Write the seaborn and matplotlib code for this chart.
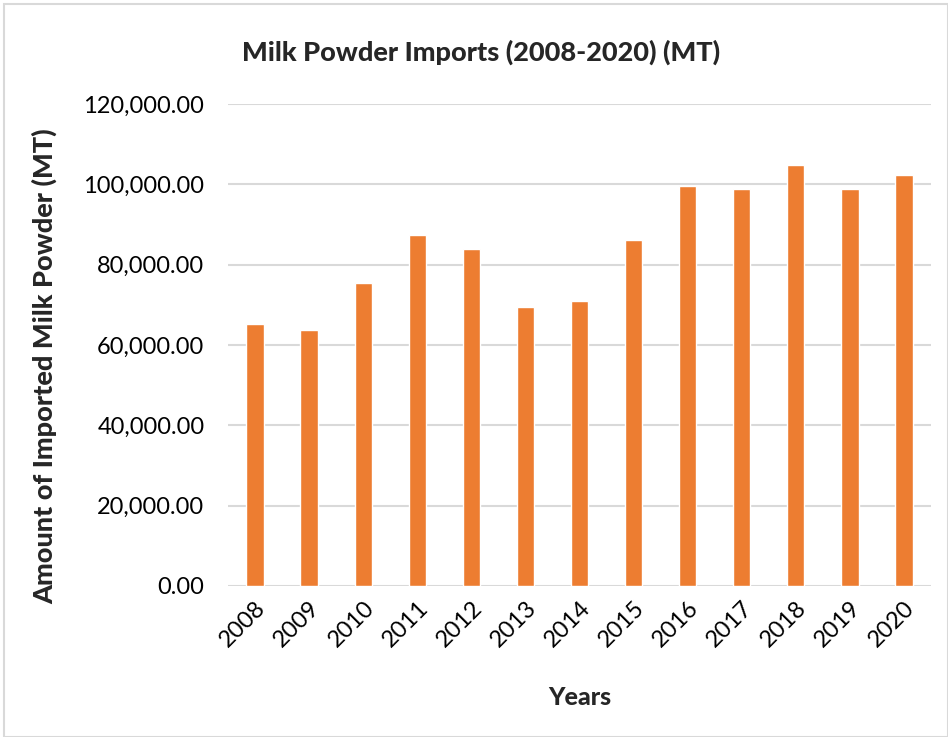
import matplotlib
matplotlib.use("Agg")
import matplotlib.pyplot as plt
import seaborn as sns
import pandas as pd
from matplotlib.patches import Rectangle
from matplotlib.ticker import FuncFormatter, MultipleLocator

years = ["2008", "2009", "2010", "2011", "2012", "2013", "2014",
         "2015", "2016", "2017", "2018", "2019", "2020"]
imports_mt = [65300, 63800, 75350, 87300, 83800, 69350, 70850,
              86250, 99600, 98750, 104900, 98750, 102300]

df = pd.DataFrame({"Year": years, "Imports": imports_mt})

sns.set_theme(style="white")
plt.rcParams["font.family"] = ["Lato", "DejaVu Sans"]

fig = plt.figure(figsize=(9.48, 7.37), dpi=100)
ax = fig.add_axes([228 / 948, 1 - 586 / 737, (931 - 228) / 948, (586 - 104) / 737])

sns.barplot(data=df, x="Year", y="Imports", color="#ED7D31", width=0.32,
            saturation=1, ax=ax, zorder=3)

ax.set_ylim(0, 120000)
ax.yaxis.set_major_locator(MultipleLocator(20000))
ax.yaxis.set_major_formatter(FuncFormatter(lambda v, p: f"{v:,.2f}"))
ax.grid(axis="y", color="#d9d9d9", linewidth=1.5, zorder=0)
ax.grid(axis="x", visible=False)
for side in ["top", "right", "left", "bottom"]:
    ax.spines[side].set_visible(False)
ax.tick_params(axis="both", length=0, labelsize=17, colors="black")
ax.tick_params(axis="y", pad=17)
ax.tick_params(axis="x", pad=8)
plt.setp(ax.get_xticklabels(), rotation=45, ha="right", rotation_mode="anchor")

ax.set_xlabel("Years", fontsize=18, fontweight=900, labelpad=25)
ax.set_ylabel("Amount of Imported Milk Powder (MT)", fontsize=19.5,
              fontweight=900)
ax.yaxis.set_label_coords(-0.243, 0.457)

fig.text(0.507, 1 - 52 / 737, "Milk Powder Imports (2008-2020) (MT)",
         ha="center", va="center", fontsize=19.5, fontweight=900)

fig.patches.append(Rectangle((4 / 948, 0), 1 - 4 / 948, 1 - 4 / 737,
                             transform=fig.transFigure, fill=False,
                             edgecolor="#d9d9d9", linewidth=1.5))

fig.savefig("out.png", dpi=100, facecolor="white")
